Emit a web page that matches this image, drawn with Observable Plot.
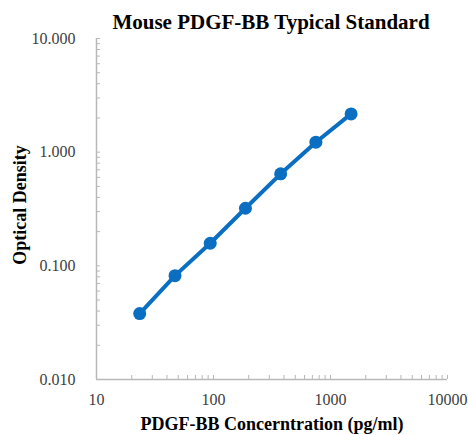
<!DOCTYPE html>
<html>
<head>
<meta charset="utf-8">
<script src="https://cdn.jsdelivr.net/npm/d3@7"></script>
<script src="https://cdn.jsdelivr.net/npm/@observablehq/plot@0.6"></script>
<style>
  body { margin: 0; background: #fff; }
  #chart svg { font-family: "Liberation Serif", "Times New Roman", serif; }
</style>
</head>
<body>
<div id="chart"></div>
<script>
const concentration = [23.4, 46.9, 93.75, 187.5, 375, 750, 1500];
const opticalDensity = [0.038, 0.082, 0.158, 0.321, 0.645, 1.224, 2.17];
const xTickValues = [10, 100, 1000, 10000];
const yTickValues = [0.01, 0.1, 1, 10];
const titleText = "Mouse PDGF-BB Typical Standard";
const xLabel = "PDGF-BB Concerntration (pg/ml)";
const yLabel = "Optical Density";

const data = concentration.map((c, i) => ({x: c, y: opticalDensity[i]}));
const minor = (lo, hi) => {
  const out = [];
  for (let d = lo; d < hi; d *= 10) for (let k = 1; k <= 10; k++) out.push(d * k);
  return Array.from(new Set(out.map(v => +v.toPrecision(6))));
};
const xMinor = minor(10, 10000);
const yMinor = minor(0.01, 10);

const blue = "#0a6fc2";
const axisGrey = "#b8b8b8";
const labelColor = "#404040";

const chart = Plot.plot({
  width: 468,
  height: 435,
  marginLeft: 96,
  marginRight: 21,
  marginTop: 38,
  marginBottom: 56,
  style: {fontFamily: "Liberation Serif, Times New Roman, serif", fontSize: "16px", color: labelColor, background: "#fff"},
  x: {type: "log", domain: [10, 10000]},
  y: {type: "log", domain: [0.01, 10]},
  marks: [
    Plot.axisX({ticks: xMinor, tickSize: -4, stroke: axisGrey, text: null, label: null}),
    Plot.axisY({ticks: yMinor, tickSize: -4, stroke: axisGrey, text: null, label: null}),
    Plot.axisX({ticks: xTickValues, tickSize: 0, tickPadding: 14, tickFormat: d => String(d), fontSize: 16, fill: labelColor, label: null}),
    Plot.axisY({ticks: yTickValues, tickSize: 0, tickPadding: 21, tickFormat: d => d.toFixed(3), fontSize: 16, fill: labelColor, label: null}),
    Plot.ruleX([10], {stroke: axisGrey, strokeWidth: 1.5}),
    Plot.ruleY([0.01], {stroke: axisGrey, strokeWidth: 1.5}),
    Plot.line(data, {x: "x", y: "y", stroke: blue, strokeWidth: 4}),
    Plot.dot(data, {x: "x", y: "y", r: 6.5, fill: blue, stroke: "none"}),
    Plot.text([titleText], {frameAnchor: "top", textAnchor: "middle", lineAnchor: "middle", dx: -1, dy: -16, text: d => d, fontSize: 21, fontWeight: "bold", fill: "#000"}),
    Plot.text([xLabel], {frameAnchor: "bottom", textAnchor: "middle", lineAnchor: "middle", dy: 45, text: d => d, fontSize: 18, fontWeight: "bold", fill: "#000"}),
    Plot.text([yLabel], {frameAnchor: "left", textAnchor: "middle", lineAnchor: "middle", dx: -76, dy: -4, rotate: -90, text: d => d, fontSize: 18, fontWeight: "bold", fill: "#000"})
  ]
});
document.getElementById("chart").appendChild(chart);
</script>
</body>
</html>
